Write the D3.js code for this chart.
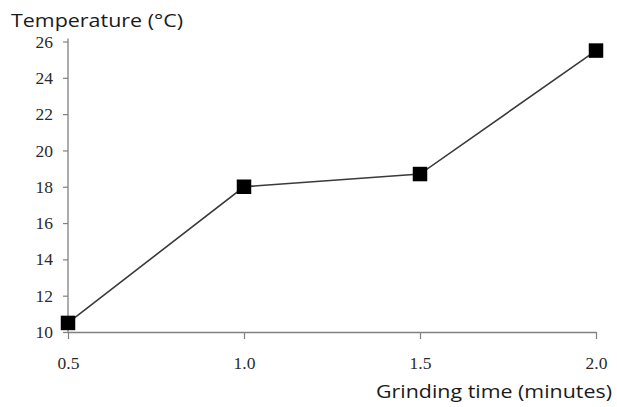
<!DOCTYPE html>
<html><head><meta charset="utf-8">
<script src="https://cdn.jsdelivr.net/npm/d3@7"></script>
<style>body{margin:0;background:#fff}
.tk text{font-family:"Liberation Serif","DejaVu Serif",serif !important;font-size:17.5px}
</style>
</head><body>
<svg id="c" width="617" height="407"></svg>
<script>
const times = [0.5, 1.0, 1.5, 2.0];
const temps = [10.5, 18.0, 18.7, 25.5];
const xTicks = [0.5, 1.0, 1.5, 2.0];
const yTicks = [10, 12, 14, 16, 18, 20, 22, 24, 26];

const svg = d3.select("#c");
const x = d3.scaleLinear().domain([0.5, 2.0]).range([68, 596]);
const y = d3.scaleLinear().domain([10, 26]).range([332, 41.5]);

const axisColor = "#808080";
const labelColor = "#2a2a2a";

// y axis
const gy = svg.append("g").attr("class", "tk").attr("transform", "translate(68,0)")
  .call(d3.axisLeft(y).tickValues(yTicks).tickFormat(d3.format("d")).tickSize(5).tickSizeOuter(0).tickPadding(10));
gy.attr("font-family", "Liberation Serif").attr("font-size", 17.5);
gy.select(".domain").attr("stroke", axisColor).attr("stroke-width", 1.3).attr("d", "M0,38.5V332");
gy.selectAll(".tick line").attr("stroke", axisColor).attr("stroke-width", 1.2);
gy.selectAll(".tick text").attr("fill", labelColor);

// x axis
const gx = svg.append("g").attr("class", "tk").attr("transform", "translate(0,332)")
  .call(d3.axisBottom(x).tickValues(xTicks).tickFormat(d3.format(".1f")).tickSize(7).tickSizeOuter(0).tickPadding(18));
gx.attr("font-family", "Liberation Serif").attr("font-size", 17.5);
gx.select(".domain").attr("stroke", axisColor).attr("stroke-width", 1.3);
gx.selectAll(".tick line").attr("stroke", axisColor).attr("stroke-width", 1.2);
gx.selectAll(".tick text").attr("fill", labelColor);

// line
const data = times.map((t, i) => ({t, v: temps[i]}));
svg.append("path").datum(data)
  .attr("fill", "none").attr("stroke", "#3a3a3a").attr("stroke-width", 1.6)
  .attr("d", d3.line().x(d => x(d.t)).y(d => y(d.v)));

// markers
const s = 14.5;
svg.selectAll("rect.m").data(data).enter().append("rect").attr("class", "m")
  .attr("x", d => x(d.t) - s / 2).attr("y", d => y(d.v) - s / 2)
  .attr("width", s).attr("height", s).attr("fill", "#000");

// titles
svg.append("text").attr("x", 11).attr("y", 27)
  .attr("textLength", 172).attr("lengthAdjust", "spacingAndGlyphs")
  .style("font-family", "'Open Sans',sans-serif").style("font-size", "19px").attr("fill", "#1a1a1a")
  .text("Temperature (°C)");
svg.append("text").attr("x", 376).attr("y", 398)
  .attr("textLength", 236).attr("lengthAdjust", "spacingAndGlyphs")
  .style("font-family", "'Open Sans',sans-serif").style("font-size", "19px").attr("fill", "#1a1a1a")
  .text("Grinding time (minutes)");
</script>
</body></html>
